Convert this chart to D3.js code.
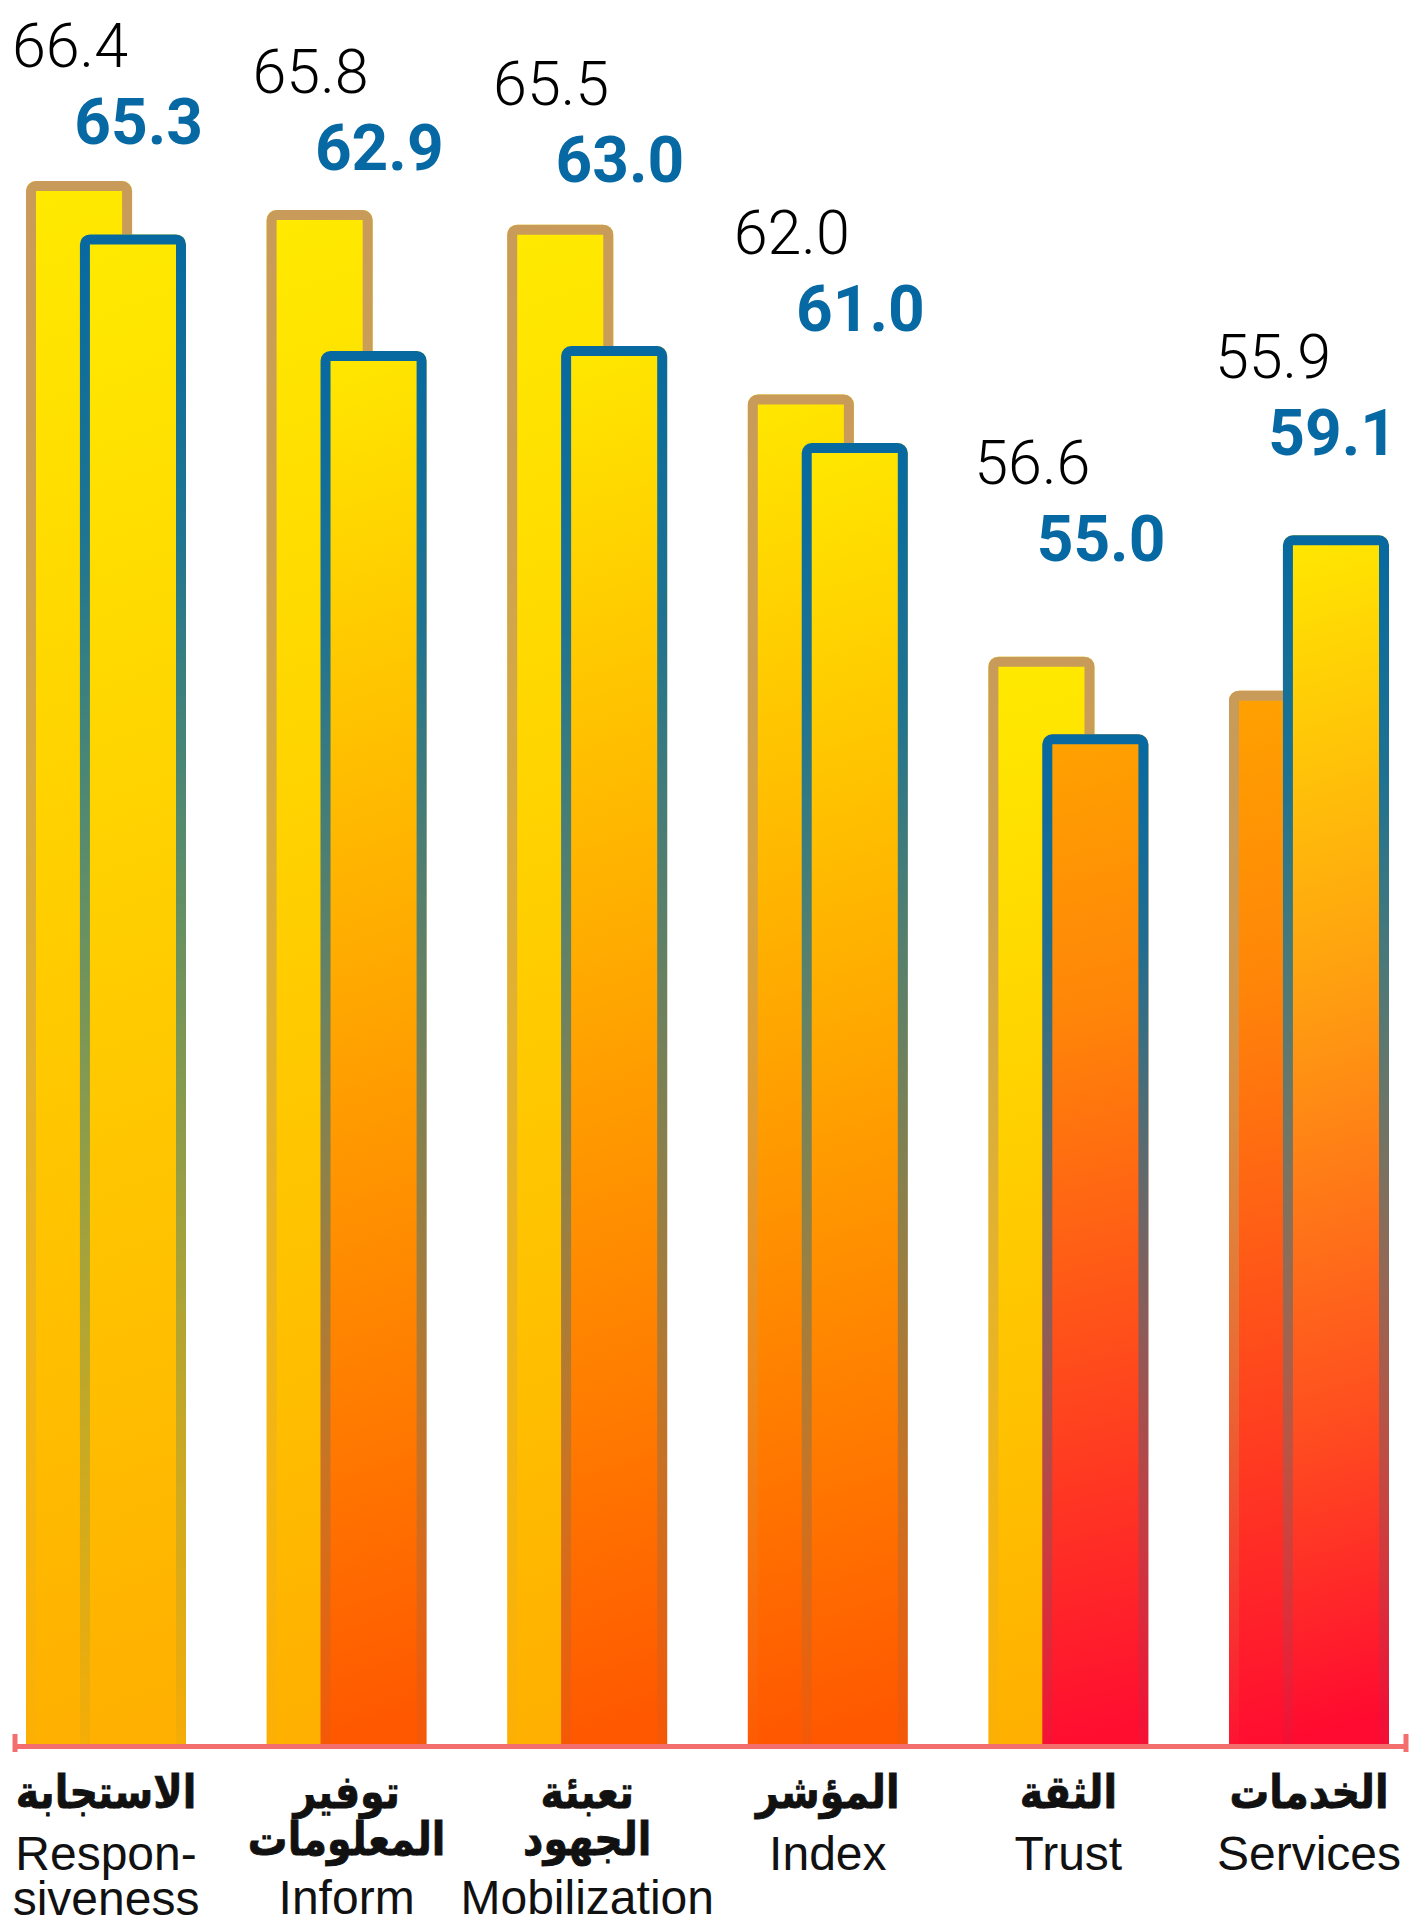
<!DOCTYPE html>
<html>
<head>
<meta charset="utf-8">
<script src="https://cdn.jsdelivr.net/npm/d3@7"></script>
<style>
  html, body { margin: 0; padding: 0; background: #fff; }
  svg { display: block; }
</style>
</head>
<body>
<svg id="chart" width="1412" height="1917"></svg>
<script>
// Index components, two survey rounds
const categories = ["responsiveness", "inform", "mobilization", "index", "trust", "services"];
const labelsArabic = [["الاستجابة"], ["توفير", "المعلومات"], ["تعبئة", "الجهود"], ["المؤشر"], ["الثقة"], ["الخدمات"]];
const labelsEnglish = [["Respon-", "siveness"], ["Inform"], ["Mobilization"], ["Index"], ["Trust"], ["Services"]];
const seriesGold = [66.4, 65.8, 65.5, 62.0, 56.6, 55.9];
const seriesBlue = [65.3, 62.9, 63.0, 61.0, 55.0, 59.1];

// Fill ramps (top to bottom) and which ramp each bar uses
const ramps = {
  amber:  [[0, "#FFEA00"], [0.5, "#FFCC00"], [0.8, "#FFBC00"], [1, "#FFB000"]],
  orange: [[0, "#FFE800"], [0.45, "#FFAA00"], [0.78, "#FF7A00"], [1, "#FF5800"]],
  deep:   [[0, "#FFA200"], [0.28, "#FF8608"], [0.72, "#FF3D20"], [1, "#FF0E30"]],
  red:    [[0, "#FFE800"], [0.38, "#FFA010"], [0.76, "#FF4A20"], [1, "#FF0A30"]]
};
const rampGold = ["amber", "amber", "amber", "orange", "amber", "deep"];
const rampBlue = ["amber", "orange", "orange", "orange", "deep", "red"];

const goldStroke = "#C89B5A";
const blueStroke = "#0769A0";
const blueText = "#0769A3";
const axisColor = "#F56E6E";

const svg = d3.select("#chart");
const defs = svg.append("defs");

Object.entries(ramps).forEach(([name, stops]) => {
  const g = defs.append("linearGradient").attr("id", "fill-" + name)
    .attr("x1", 0).attr("y1", 0).attr("x2", 0.025).attr("y2", 1);
  stops.forEach(([o, c]) => g.append("stop").attr("offset", o).attr("stop-color", c));
});
[["gold", goldStroke], ["blue", blueStroke]].forEach(([name, col]) => {
  const g = defs.append("linearGradient").attr("id", "edge-" + name)
    .attr("x1", 0).attr("y1", 0).attr("x2", 0).attr("y2", 1);
  [[0, 1], [0.2, 0.9], [0.5, 0.56], [0.8, 0.22], [1, 0.04]].forEach(([o, a]) =>
    g.append("stop").attr("offset", o).attr("stop-color", col).attr("stop-opacity", a));
});

const baseY = 1744;
const y = d3.scaleLinear().domain([34.2, 66.4]).range([baseY, 181]);
const labelY = d3.scaleLinear().domain([55, 66.4]).range([552, 67]);
const x = d3.scaleBand().domain(categories).range([-14.3, 1429.3])
  .paddingInner(0.335).paddingOuter(0.1675);
const barW = x.bandwidth() * 0.663;
const shift = x.bandwidth() - barW;
const sw = 10;

function fillShape(x0, w, top) {
  const r = 10, p = d3.path();
  p.moveTo(x0, baseY);
  p.lineTo(x0, top + r);
  p.arcTo(x0, top, x0 + r, top, r);
  p.lineTo(x0 + w - r, top);
  p.arcTo(x0 + w, top, x0 + w, top + r, r);
  p.lineTo(x0 + w, baseY);
  p.closePath();
  return p.toString();
}
function edgeShape(x0, w, top) {
  const h = sw / 2, r = 5, p = d3.path();
  const a = x0 + h, b = x0 + w - h, t = top + h;
  p.moveTo(a, baseY);
  p.lineTo(a, t + r);
  p.arcTo(a, t, a + r, t, r);
  p.lineTo(b - r, t);
  p.arcTo(b, t, b, t + r, r);
  p.lineTo(b, baseY);
  return p.toString();
}

const rows = categories.map((c, i) => ({
  c, i, gold: seriesGold[i], blue: seriesBlue[i],
  ar: labelsArabic[i], en: labelsEnglish[i]
}));

const groups = svg.append("g").selectAll("g").data(rows).join("g")
  .attr("transform", d => `translate(${x(d.c)},0)`);

// earlier round (gold outline), drawn first
groups.append("path")
  .attr("d", d => fillShape(0, barW, y(d.gold)))
  .attr("fill", d => `url(#fill-${rampGold[d.i]})`);
groups.append("path")
  .attr("d", d => edgeShape(0, barW, y(d.gold)))
  .attr("fill", "none").attr("stroke", "url(#edge-gold)").attr("stroke-width", sw);

// latest round (blue outline), overlapping on the right
groups.append("path")
  .attr("d", d => fillShape(shift, barW, y(d.blue)))
  .attr("fill", d => `url(#fill-${rampBlue[d.i]})`);
groups.append("path")
  .attr("d", d => edgeShape(shift, barW, y(d.blue)))
  .attr("fill", "none").attr("stroke", "url(#edge-blue)").attr("stroke-width", sw);

// value labels
const numFont = "Roboto, 'Liberation Sans', sans-serif";
svg.append("g").selectAll("text").data(rows).join("text")
  .attr("x", d => x(d.c) + 102)
  .attr("y", d => labelY(Math.max(d.gold, d.blue)))
  .attr("text-anchor", "end")
  .attr("font-family", numFont).attr("font-weight", 300).attr("font-size", 61)
  .attr("fill", "#000")
  .text(d => d.gold.toFixed(1));
svg.append("g").selectAll("text").data(rows).join("text")
  .attr("x", d => Math.min(x(d.c) + 177, 1397))
  .attr("y", d => labelY(Math.max(d.gold, d.blue)) + 77)
  .attr("text-anchor", "end")
  .attr("font-family", numFont).attr("font-weight", 700).attr("font-size", 64)
  .attr("fill", blueText)
  .text(d => d.blue.toFixed(1));

// baseline axis with end caps
const axisScale = d3.scaleLinear().domain([0, 1]).range([15, 1406]);
const axis = svg.append("g").attr("transform", `translate(0,${baseY + 2})`)
  .call(d3.axisBottom(axisScale).tickValues([]).tickSizeOuter(0));
axis.select(".domain").attr("stroke", axisColor).attr("stroke-width", 5);
svg.append("g").selectAll("line").data([0, 1]).join("line")
  .attr("x1", d => axisScale(d)).attr("x2", d => axisScale(d))
  .attr("y1", baseY - 10).attr("y2", baseY + 8)
  .attr("stroke", axisColor).attr("stroke-width", 5);

// category labels: Arabic (bold) then English
const lab = svg.append("g").selectAll("g").data(rows).join("g")
  .attr("transform", d => `translate(${x(d.c) + x.bandwidth() / 2},0)`)
  .attr("text-anchor", "middle");
lab.each(function (d) {
  const g = d3.select(this);
  d.ar.forEach((t, k) => {
    g.append("text")
      .attr("transform", `translate(0,${1808 + k * 47}) scale(0.9,1.04)`)
      .attr("font-family", "'DejaVu Sans', sans-serif").attr("font-weight", 700)
      .attr("font-size", 44).attr("fill", "#111")
      .attr("stroke", "#111").attr("stroke-width", 0.8)
      .attr("direction", "rtl").attr("text-anchor", "middle")
      .text(t);
  });
  const enStart = 1808 + (d.ar.length - 1) * 47 + (d.ar.length > 1 ? 59 : 62);
  d.en.forEach((t, k) => {
    g.append("text").attr("y", enStart + k * 45)
      .attr("font-family", "'Liberation Sans Narrow', 'Arial Narrow', 'Liberation Sans', sans-serif")
      .attr("font-size", 48).attr("fill", "#111")
      .text(t);
  });
});
</script>
</body>
</html>
